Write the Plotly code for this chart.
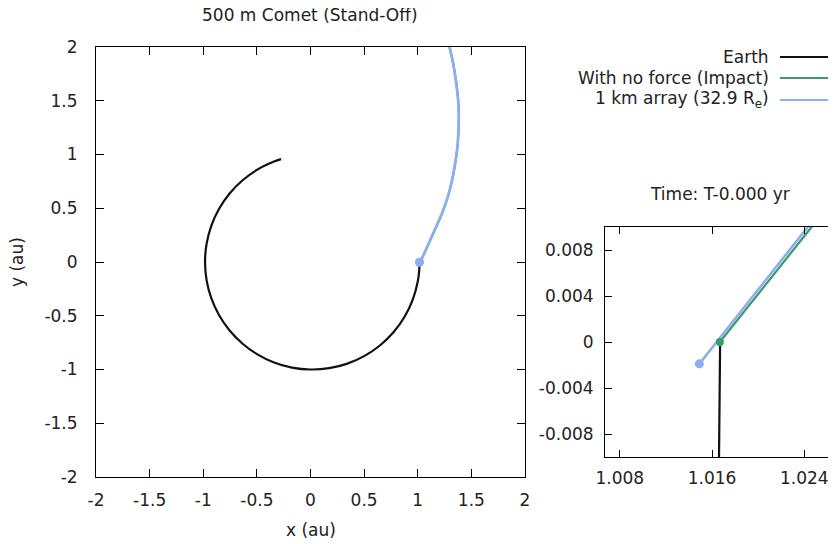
import plotly.graph_objects as go

# ---------------- data ----------------
earth_x = [-0.2743, -0.3400, -0.4958, -0.6359, -0.7562, -0.8535, -0.9250, -0.9686, -0.9833,
           -0.9686, -0.9250, -0.8535, -0.7562, -0.6359, -0.4958, -0.3400, -0.1731, 0.0,
           0.1741, 0.3440, 0.5042, 0.6497, 0.7758, 0.8785, 0.9544, 1.0010, 1.0128, 1.0166, 1.0167]
earth_y = [0.9569, 0.9343, 0.8588, 0.7578, 0.6346, 0.4928, 0.3366, 0.1708, 0.0,
           -0.1708, -0.3366, -0.4928, -0.6346, -0.7578, -0.8588, -0.9343, -0.9820, -1.0,
           -0.9877, -0.9451, -0.8733, -0.7742, -0.6510, -0.5072, -0.3474, -0.1765, -0.0886, -0.0106, 0.0]

noforce_x = [1.01668, 1.02463, 1.0375, 1.0515, 1.1015, 1.1565, 1.2275, 1.2815, 1.3215, 1.3495,
             1.3711, 1.3805, 1.3838, 1.3745, 1.3559, 1.3308, 1.2963, 1.272]
noforce_y = [0.0, 0.0100, 0.030, 0.058, 0.170, 0.293, 0.453, 0.608, 0.763, 0.918,
             1.073, 1.228, 1.383, 1.538, 1.693, 1.848, 2.003, 2.10]

array_x = [1.0149, 1.0243, 1.036, 1.050, 1.100, 1.155, 1.226, 1.280, 1.320, 1.348,
           1.3696, 1.379, 1.3823, 1.373, 1.3544, 1.3293, 1.2948, 1.2705]
array_y = [-0.0019, 0.0100, 0.030, 0.058, 0.170, 0.293, 0.453, 0.608, 0.763, 0.918,
           1.073, 1.228, 1.383, 1.538, 1.693, 1.848, 2.003, 2.10]

series_names = ["Earth", "With no force (Impact)", "1 km array (32.9 R<sub>e</sub>)"]

main_ticks = [-2, -1.5, -1, -0.5, 0, 0.5, 1, 1.5, 2]
main_tick_labels = ["-2", "-1.5", "-1", "-0.5", "0", "0.5", "1", "1.5", "2"]
inset_x_ticks = [1.008, 1.016, 1.024]
inset_x_labels = ["1.008", "1.016", "1.024"]
inset_y_ticks = [-0.008, -0.004, 0, 0.004, 0.008]
inset_y_labels = ["-0.008", "-0.004", "0", "0.004", "0.008"]

title_main = "500 m Comet (Stand-Off)"
title_inset = "Time: T-0.000 yr"

# ---------------- styles ----------------
OX, OY = 8, 8            # page body margin
W, H = 828, 536
FONT = "DejaVu Sans"
FS = 17
TXT = "#222222"
C_EARTH = "#111111"
C_GREEN = "#3c9a6c"
C_BLUE = "#8caef2"
LW = 2.2

def px(x):
    return (x - OX) / W

def py(y):
    return 1 - (y - OY) / H

fig = go.Figure()

for xa, ya, shp in (("x", "y", "spline"), ("x2", "y2", "linear")):
    fig.add_trace(go.Scatter(x=earth_x, y=earth_y, mode="lines", xaxis=xa, yaxis=ya,
                             line=dict(color=C_EARTH, width=LW, shape=shp),
                             showlegend=False, hoverinfo="skip"))
    fig.add_trace(go.Scatter(x=noforce_x, y=noforce_y, mode="lines", xaxis=xa, yaxis=ya,
                             line=dict(color=C_GREEN, width=LW, shape=shp),
                             showlegend=False, hoverinfo="skip"))
    fig.add_trace(go.Scatter(x=array_x, y=array_y, mode="lines", xaxis=xa, yaxis=ya,
                             line=dict(color=C_BLUE, width=LW + 0.4, shape=shp),
                             showlegend=False, hoverinfo="skip"))
    fig.add_trace(go.Scatter(x=[noforce_x[0]], y=[noforce_y[0]], mode="markers", xaxis=xa, yaxis=ya,
                             marker=dict(color=C_GREEN, size=8), showlegend=False, hoverinfo="skip"))
    fig.add_trace(go.Scatter(x=[array_x[0]], y=[array_y[0]], mode="markers", xaxis=xa, yaxis=ya,
                             marker=dict(color=C_BLUE, size=9), showlegend=False, hoverinfo="skip"))

axis_common = dict(showgrid=False, zeroline=False, showline=True, linecolor="#000000", linewidth=1,
                   mirror="ticks", ticks="inside", tickcolor="#000000", tickwidth=1, automargin=False,
                   tickfont=dict(family=FONT, size=FS, color=TXT))

fig.update_layout(
    width=W, height=H,
    margin=dict(l=0, r=0, t=0, b=0, pad=0, autoexpand=False),
    paper_bgcolor="white", plot_bgcolor="white",
    showlegend=False,
    xaxis=dict(domain=[px(96), px(525)], range=[-2, 2], anchor="y",
               tickvals=main_ticks, ticktext=main_tick_labels, ticklen=8, ticklabelstandoff=8,
               **axis_common),
    yaxis=dict(domain=[py(477), py(47)], range=[-2, 2], anchor="x",
               tickvals=main_ticks, ticktext=main_tick_labels, ticklen=8, ticklabelstandoff=14,
               **axis_common),
    xaxis2=dict(domain=[px(605), px(835)], range=[1.00672, 1.02666], anchor="y2",
                tickvals=inset_x_ticks, ticktext=inset_x_labels, ticklen=7, ticklabelstandoff=6,
                **axis_common),
    yaxis2=dict(domain=[py(457), py(227)], range=[-0.01, 0.01], anchor="x2",
                tickvals=inset_y_ticks, ticktext=inset_y_labels, ticklen=7, ticklabelstandoff=7,
                **axis_common),
)

ann = [
    dict(text=title_main, x=px(310), y=py(15)),
    dict(text=title_inset, x=px(720), y=py(194)),
    dict(text="x (au)", x=px(311), y=py(530)),
    dict(text="y (au)", x=px(17), y=py(262), textangle=-90),
]
for a in ann:
    fig.add_annotation(xref="paper", yref="paper", showarrow=False, xanchor="center", yanchor="middle",
                       font=dict(family=FONT, size=FS, color=TXT), **a)

leg_y = [57, 78, 100]
leg_colors = [C_EARTH, C_GREEN, C_BLUE]
for name, yy, col in zip(series_names, leg_y, leg_colors):
    fig.add_annotation(xref="paper", yref="paper", showarrow=False, xanchor="right", yanchor="middle",
                       x=px(771), y=py(yy), text=name, font=dict(family=FONT, size=FS, color=TXT))
    fig.add_shape(type="line", xref="paper", yref="paper", x0=px(780), x1=px(836), y0=py(yy), y1=py(yy),
                  line=dict(color=col, width=LW))

fig.write_html("out.html")
